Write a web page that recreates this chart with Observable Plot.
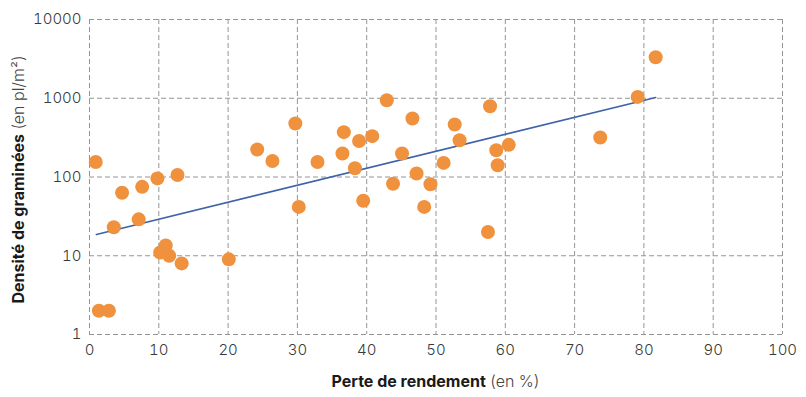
<!DOCTYPE html>
<html>
<head>
<meta charset="utf-8">
<script src="https://cdn.jsdelivr.net/npm/d3@7"></script>
<script src="https://cdn.jsdelivr.net/npm/@observablehq/plot@0.6"></script>
<style>
  html, body { margin: 0; padding: 0; background: #fff; }
  #chart svg { display: block; }
</style>
</head>
<body>
<div id="chart"></div>
<script>
// Perte de rendement (%)
const perte = [0.9, 1.35, 2.8, 3.5, 4.7, 7.1, 7.6, 9.8, 10.2, 11.0, 11.5, 12.7, 13.3, 20.1,
  24.2, 26.4, 29.7, 30.2, 32.9, 36.5, 36.7, 38.3, 38.9, 39.5, 40.8, 42.9, 43.8, 45.1,
  46.6, 47.2, 48.3, 49.2, 51.1, 52.7, 53.4, 57.5, 57.8, 58.7, 58.9, 60.5, 73.7, 79.1, 81.7];
// Densité de graminées (pl/m²)
const densite = [155, 2, 2, 23, 63, 29, 75, 96, 11, 13.5, 10, 106, 8, 9,
  223, 160, 478, 41.7, 155, 199, 371, 129, 287, 50, 330, 945, 82, 199,
  553, 111, 41.7, 81, 151, 464, 293, 20, 793, 219, 141, 256, 318, 1040, 3320];
// Trend line ends
const trendX = [1.0, 81.7];
const trendY = [18.6, 1022];
// Ticks
const xTicks = [0, 10, 20, 30, 40, 50, 60, 70, 80, 90, 100];
const yTicks = [1, 10, 100, 1000, 10000];

const points = perte.map((p, i) => ({x: p, y: densite[i]}));
const trend = trendX.map((t, i) => ({x: t, y: trendY[i]}));

const W = 806, H = 397;
const FONT = "Inter, 'Open Sans', sans-serif";
const chart = Plot.plot({
  width: W,
  height: H,
  marginLeft: 89,
  marginRight: 24,
  marginTop: 19,
  marginBottom: 63,
  style: {fontFamily: FONT, fontSize: "15px", color: "#3a3a3a", background: "#fff"},
  x: {domain: [0, 100], ticks: xTicks, label: null, tickSize: 0, tickPadding: 10},
  y: {type: "log", domain: [1, 10000], ticks: yTicks, label: null, tickSize: 0, tickPadding: 8,
      tickFormat: d => String(d)},
  marks: [
    Plot.gridX(xTicks, {stroke: "#949494", strokeOpacity: 1, strokeDasharray: "5,3", strokeWidth: 1}),
    Plot.gridY(yTicks, {stroke: "#949494", strokeOpacity: 1, strokeDasharray: "5,3", strokeWidth: 1}),
    Plot.axisX({ticks: xTicks, tickSize: 0, tickPadding: 10, fontSize: 15, fill: "#3a3a3a", fontWeight: 300}),
    Plot.axisY({ticks: yTicks, tickSize: 0, tickPadding: 8, fontSize: 15, fill: "#3a3a3a", fontWeight: 300, tickFormat: d => String(d)}),
    Plot.line(trend, {x: "x", y: "y", stroke: "#3f63a8", strokeWidth: 1.7}),
    Plot.dot(points, {x: "x", y: "y", r: 7, fill: "#f0913e", stroke: "none"})
  ]
});

const svg = d3.select(chart);
// X axis title
const xt = svg.append("text")
  .attr("x", (89 + (W - 24)) / 2)
  .attr("y", 387)
  .attr("text-anchor", "middle")
  .style("font-family", FONT)
  .style("font-size", "16px")
  .style("fill", "#1a1a1a");
xt.append("tspan").style("font-weight", "bold").text("Perte de rendement");
xt.append("tspan").style("fill", "#444").style("font-weight", "300").text(" (en %)");

// Y axis title
const yt = svg.append("text")
  .attr("transform", `translate(24, ${(19 + 334) / 2 + 3}) rotate(-90)`)
  .attr("text-anchor", "middle")
  .style("font-family", FONT)
  .style("font-size", "16px")
  .style("fill", "#1a1a1a");
yt.append("tspan").style("font-weight", "bold").text("Densité de graminées");
yt.append("tspan").style("fill", "#444").style("font-weight", "300").text(" (en pl/m²)");

document.getElementById("chart").appendChild(chart);
</script>
</body>
</html>
